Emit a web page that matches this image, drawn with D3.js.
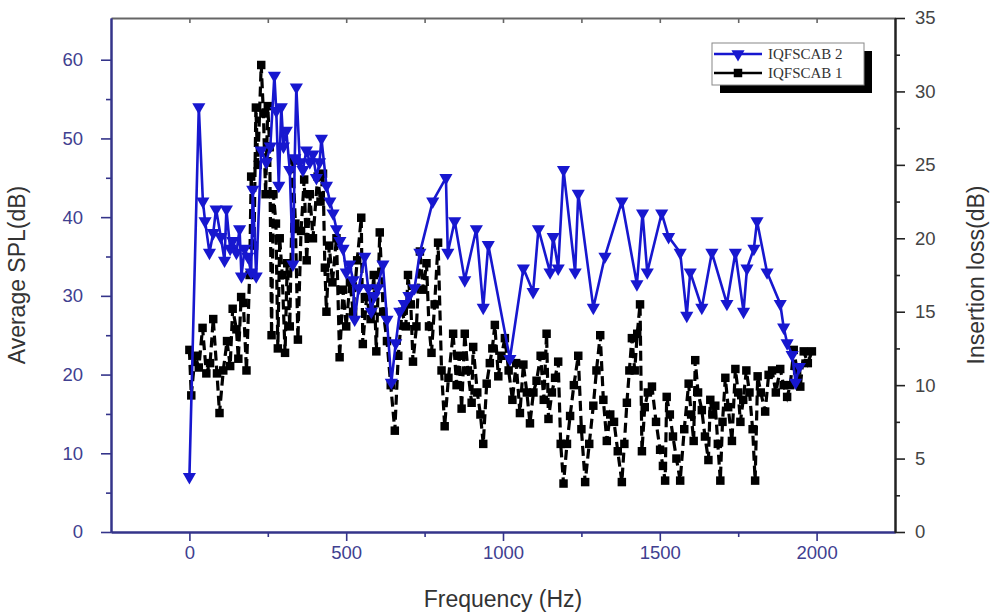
<!DOCTYPE html>
<html>
<head>
<meta charset="utf-8">
<script src="https://cdn.jsdelivr.net/npm/d3@7"></script>
<style>
  body { margin: 0; background: #fff; }
  svg { display: block; }
</style>
</head>
<body>
<div id="chart"></div>
<script>
// IQFSCAB 2 (left axis, Average SPL)
const blueFreq = [0, 30, 43, 50, 64, 76, 85, 100, 112, 118, 130, 138, 150, 160, 166, 176, 186, 197, 202, 213,
  229, 245, 258, 271, 277, 285, 293, 300, 309, 320, 330, 336, 341, 352, 362, 373, 384, 394, 405, 415,
  421, 437, 448, 458, 469, 480, 490, 500, 511, 522, 527, 540, 559, 570, 580, 590, 600, 617, 630, 644,
  658, 671, 685, 700, 718, 735, 776, 818, 824, 846, 878, 915, 937, 953, 1022, 1065, 1096, 1113, 1150, 1160,
  1176, 1193, 1230, 1240, 1288, 1325, 1379, 1427, 1445, 1460, 1506, 1528, 1565, 1586, 1597, 1634, 1666, 1714, 1741, 1767,
  1778, 1800, 1810, 1842, 1884, 1895, 1906, 1922, 1933, 1945];
const blueSpl = [7, 54, 42, 39.5, 35.5, 38, 41, 37.5, 34.5, 41, 36, 37, 35.5, 38.5, 32.5, 36, 35, 33, 43.5, 32.5,
  48.5, 47, 49, 58, 53.5, 44, 54, 49, 51, 46, 34, 47.5, 56.5, 47, 46, 48.5, 47, 48, 45, 47,
  50, 44, 42, 40.5, 38.5, 37, 36, 33, 34, 32, 27, 31, 35, 31, 28, 30, 31, 34, 27, 19,
  24, 28, 29, 30, 31, 35.5, 42, 45, 35.5, 39.5, 32, 38.5, 28.5, 36.5, 22, 33.5, 30.5, 38.5, 33, 37.5,
  33.5, 46, 33, 43, 28.5, 35, 42, 31.5, 40.5, 33, 40.5, 37.5, 35.5, 27.5, 33, 28.5, 35.5, 29, 35.5, 28,
  33.5, 36, 39.5, 33, 29, 26, 24, 22.5, 19, 21];

// IQFSCAB 1 (right axis, Insertion loss)
const blackFreq = [0, 6, 18, 30, 42, 54, 66, 76, 88, 96, 108, 120, 130, 138, 150, 156, 165, 172, 182, 192,
  197, 206, 212, 218, 229, 236, 243, 250, 256, 262, 268, 276, 282, 288, 296, 305, 312, 320, 330, 338,
  346, 356, 366, 374, 384, 394, 409, 418, 426, 432, 437, 446, 456, 469, 479, 490, 500, 512, 522, 535,
  548, 553, 565, 578, 588, 596, 607, 618, 630, 642, 655, 666, 678, 690, 697, 706, 713, 724, 735, 746,
  756, 764, 772, 782, 793, 804, 814, 826, 841, 852, 860, 868, 878, 888, 900, 905, 918, 928, 937, 948,
  958, 966, 974, 985, 995, 1006, 1018, 1030, 1042, 1054, 1065, 1076, 1086, 1097, 1107, 1120, 1130, 1139, 1145, 1156,
  1166, 1176, 1184, 1193, 1204, 1214, 1226, 1240, 1250, 1262, 1275, 1288, 1298, 1310, 1320, 1331, 1342, 1354, 1366, 1379,
  1387, 1395, 1403, 1411, 1420, 1428, 1437, 1443, 1452, 1462, 1475, 1488, 1501, 1510, 1517, 1522, 1532, 1542, 1553, 1565,
  1578, 1592, 1600, 1608, 1613, 1622, 1634, 1644, 1655, 1661, 1668, 1677, 1685, 1693, 1700, 1709, 1718, 1730, 1741, 1750,
  1757, 1766, 1776, 1786, 1796, 1804, 1812, 1822, 1836, 1847, 1858, 1870, 1884, 1895, 1906, 1916, 1927, 1938, 1948, 1959,
  1972, 1985];
const blackLoss = [12.4, 9.3, 12, 11.2, 13.9, 10.8, 11.5, 14.5, 10.8, 8.1, 11, 13, 11.3, 15.2, 13.8, 11.8, 16, 15.6, 11, 17.5,
  24.2, 19.5, 28.9, 25, 31.8, 28.5, 23, 29, 26.2, 13.4, 23, 21, 12.5, 20, 17.5, 12.2, 18.3, 14, 25.3, 21,
  13.1, 20.5, 24, 18.5, 23, 20, 24.2, 22.5, 24.4, 18, 15, 19.5, 17, 20, 11.9, 16.5, 14, 17, 15, 18.5,
  21.4, 12.8, 16, 14.5, 17.5, 12.3, 20.4, 15, 13, 10, 6.9, 12, 15, 14, 17.5, 15.5, 11.6, 14, 19.1, 16.5,
  18.3, 14, 12.2, 15.5, 19.7, 11, 7.2, 10.5, 13.5, 10, 12, 8.4, 13.5, 11, 8.8, 12.6, 9.5, 8, 6, 10.1,
  11.5, 12.5, 14.1, 10.6, 12, 13.2, 11, 9, 11.5, 8.1, 11.4, 9.5, 7.4, 9.5, 10.3, 12, 9, 13.5, 7.7, 9.5,
  10.5, 11.6, 6, 3.3, 6, 7.9, 10, 12, 7, 3.4, 6, 8.6, 11, 13.4, 9, 6.2, 8, 7.5, 5.5, 3.4,
  6, 8.8, 11, 13.2, 11, 13.5, 15.5, 5.5, 8.5, 9.5, 9.9, 7.5, 5.6, 4.5, 3.5, 9.2, 8, 6.5, 5, 3.5,
  7, 10.1, 8, 6.2, 11.7, 9.5, 8.3, 6.5, 4.9, 9, 8, 8.6, 6, 3.5, 7.5, 10.5, 8.5, 6.2, 11.1, 9.5,
  7.5, 9, 11, 9.5, 7, 3.5, 10.6, 9.5, 8.2, 10.7, 11, 9.5, 11.1, 10, 9.2, 10, 12.4, 11, 9.9, 12.3,
  11.5, 12.3];

const xMajor = [0, 500, 1000, 1500, 2000];
const xMinor = [250, 750, 1250, 1750];
const xTop = [0, 250, 500, 750, 1000, 1250, 1500, 1750, 2000];
const leftMajor = [0, 10, 20, 30, 40, 50, 60];
const leftMinor = [5, 15, 25, 35, 45, 55];
const rightMajor = [0, 5, 10, 15, 20, 25, 30, 35];
const rightMinor = [2.5, 7.5, 12.5, 17.5, 22.5, 27.5, 32.5];
const seriesNames = ['IQFSCAB 2', 'IQFSCAB 1'];

const
  W = 1005,
  H = 615,
  plot = { left: 111, right: 895, top: 18, bottom: 532 },
  navy = '#34348a',
  blue = '#1717cf',
  font = '"Liberation Sans", Arial, sans-serif';

let svg = d3.select('#chart')
  .append('svg')
  .attr('width', W)
  .attr('height', H);

let x = d3.scaleLinear().domain([-250, 2250]).range([plot.left, plot.right]);
let yL = d3.scaleLinear().domain([0, 65.3]).range([plot.bottom, plot.top]);
let yR = d3.scaleLinear().domain([0, 35]).range([plot.bottom, plot.top]);

function styleAxis(g, color, labelColor) {
  g.selectAll('path.domain').attr('stroke', color).attr('stroke-width', 2);
  g.selectAll('.tick line').attr('stroke', color).attr('stroke-width', 1.6);
  g.selectAll('.tick text')
    .attr('fill', labelColor)
    .style('font-family', font)
    .style('font-size', '18.5px');
}

// top frame line with inward ticks
let gTop = svg.append('g')
  .attr('transform', 'translate(0,' + plot.top + ')')
  .call(d3.axisTop(x).tickValues(xTop).tickSize(-5).tickSizeOuter(0).tickFormat(''));
styleAxis(gTop, '#666', '#666');

// bottom axis
let gBottomMinor = svg.append('g')
  .attr('transform', 'translate(0,' + plot.bottom + ')')
  .call(d3.axisBottom(x).tickValues(xMinor).tickSize(5).tickSizeOuter(0).tickFormat(''));
styleAxis(gBottomMinor, navy, navy);
let gBottom = svg.append('g')
  .attr('transform', 'translate(0,' + plot.bottom + ')')
  .call(d3.axisBottom(x).tickValues(xMajor).tickSize(9).tickSizeOuter(0).tickPadding(5).tickFormat(d3.format('d')));
styleAxis(gBottom, navy, '#404090');

// left axis
let gLeftMinor = svg.append('g')
  .attr('transform', 'translate(' + plot.left + ',0)')
  .call(d3.axisLeft(yL).tickValues(leftMinor).tickSize(5).tickSizeOuter(0).tickFormat(''));
styleAxis(gLeftMinor, navy, navy);
let gLeft = svg.append('g')
  .attr('transform', 'translate(' + plot.left + ',0)')
  .call(d3.axisLeft(yL).tickValues(leftMajor).tickSize(10).tickSizeOuter(0).tickPadding(18));
styleAxis(gLeft, navy, '#404090');

// right axis
let gRightMinor = svg.append('g')
  .attr('transform', 'translate(' + plot.right + ',0)')
  .call(d3.axisRight(yR).tickValues(rightMinor).tickSize(5).tickSizeOuter(0).tickFormat(''));
styleAxis(gRightMinor, '#222', '#222');
let gRight = svg.append('g')
  .attr('transform', 'translate(' + plot.right + ',0)')
  .call(d3.axisRight(yR).tickValues(rightMajor).tickSize(10).tickSizeOuter(0).tickPadding(10));
styleAxis(gRight, '#222', '#444');

// axis titles
svg.append('text')
  .attr('transform', 'translate(25,' + ((plot.top + plot.bottom) / 2) + ') rotate(-90)')
  .attr('text-anchor', 'middle')
  .attr('fill', '#333')
  .style('font-family', font)
  .style('font-size', '23px')
  .text('Average SPL(dB)');

svg.append('text')
  .attr('transform', 'translate(984,' + ((plot.top + plot.bottom) / 2) + ') rotate(-90)')
  .attr('text-anchor', 'middle')
  .attr('fill', '#333')
  .style('font-family', font)
  .style('font-size', '23px')
  .text('Insertion loss(dB)');

svg.append('text')
  .attr('x', (x(0) + x(2000)) / 2)
  .attr('y', 607)
  .attr('text-anchor', 'middle')
  .attr('fill', '#333')
  .style('font-family', font)
  .style('font-size', '23px')
  .text('Frequency (Hz)');

// series data
let blackData = blackFreq.map(function (f, i) { return { f: f, v: blackLoss[i] }; });
let blueData = blueFreq.map(function (f, i) { return { f: f, v: blueSpl[i] }; });

let blackLine = d3.line()
  .x(function (d) { return x(d.f); })
  .y(function (d) { return yR(d.v); });

let blueLine = d3.line()
  .x(function (d) { return x(d.f); })
  .y(function (d) { return yL(d.v); });

let square = d3.symbol().type(d3.symbolSquare).size(72);
let triangle = d3.symbol().type(d3.symbolTriangle).size(75);

// IQFSCAB 1 - black dashed with squares
svg.append('path')
  .datum(blackData)
  .attr('fill', 'none')
  .attr('stroke', '#000')
  .attr('stroke-width', 3.2)
  .attr('stroke-dasharray', '10,5')
  .attr('d', blackLine);

svg.append('g').selectAll('path')
  .data(blackData)
  .enter().append('path')
  .attr('d', square)
  .attr('fill', '#000')
  .attr('transform', function (d) { return 'translate(' + x(d.f) + ',' + yR(d.v) + ')'; });

// IQFSCAB 2 - blue solid with down triangles
svg.append('path')
  .datum(blueData)
  .attr('fill', 'none')
  .attr('stroke', blue)
  .attr('stroke-width', 2.6)
  .attr('stroke-linejoin', 'round')
  .attr('d', blueLine);

svg.append('g').selectAll('path')
  .data(blueData)
  .enter().append('path')
  .attr('d', triangle)
  .attr('fill', blue)
  .attr('transform', function (d) { return 'translate(' + x(d.f) + ',' + yL(d.v) + ') rotate(180)'; });

// legend
let lg = svg.append('g').attr('transform', 'translate(712,43)');
lg.append('rect')
  .attr('x', 8).attr('y', 8)
  .attr('width', 152).attr('height', 42)
  .attr('fill', '#000');
lg.append('rect')
  .attr('x', 0).attr('y', 0)
  .attr('width', 152).attr('height', 42)
  .attr('fill', '#fff')
  .attr('stroke', '#888')
  .attr('stroke-width', 1);

let legendRows = [
  { name: seriesNames[0], color: blue, sym: triangle, rot: 180 },
  { name: seriesNames[1], color: '#000', sym: square, rot: 0 }
];

legendRows.forEach(function (r, i) {
  let cy = 11 + i * 19;
  lg.append('line')
    .attr('x1', 2).attr('x2', 50)
    .attr('y1', cy).attr('y2', cy)
    .attr('stroke', r.color)
    .attr('stroke-width', 2.5);
  lg.append('path')
    .attr('d', r.sym)
    .attr('fill', r.color)
    .attr('transform', 'translate(26,' + cy + ') rotate(' + r.rot + ')');
  lg.append('text')
    .attr('x', 56)
    .attr('y', cy + 5)
    .attr('fill', '#333')
    .style('font-family', '"Liberation Serif", "Times New Roman", serif')
    .style('font-size', '15px')
    .text(r.name);
});
</script>
</body>
</html>
